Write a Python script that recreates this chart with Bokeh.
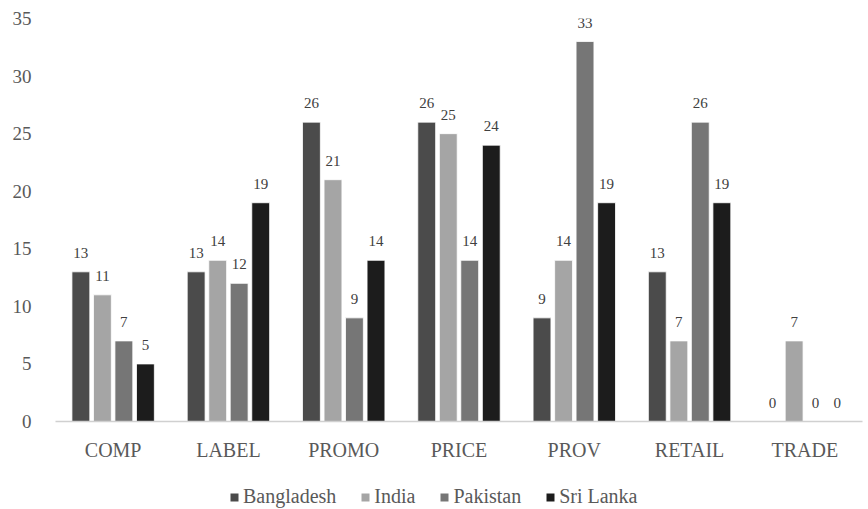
from bokeh.plotting import figure
from bokeh.models import ColumnDataSource, Legend, LegendItem, LabelSet, Range1d, FactorRange
from bokeh.layouts import column
from bokeh.transform import dodge
from bokeh.embed import file_html
from bokeh.resources import INLINE

categories = ["COMP", "LABEL", "PROMO", "PRICE", "PROV", "RETAIL", "TRADE"]
series_names = ["Bangladesh", "India", "Pakistan", "Sri Lanka"]
bangladesh = [13, 13, 26, 26, 9, 13, 0]
india = [11, 14, 21, 25, 14, 7, 7]
pakistan = [7, 12, 9, 14, 33, 26, 0]
sri_lanka = [5, 19, 14, 24, 19, 19, 0]
y_ticks = [0, 5, 10, 15, 20, 25, 30, 35]

colors = ["#4b4b4b", "#a5a5a5", "#767676", "#1c1c1c"]
series_values = [bangladesh, india, pakistan, sri_lanka]
keys = ["bd", "in", "pk", "sl"]

data = {"cat": categories}
for k, vals in zip(keys, series_values):
    data[k] = vals
    data[k + "_lbl"] = [str(v) for v in vals]
source = ColumnDataSource(data)

p = figure(x_range=FactorRange(*categories), y_range=Range1d(0, 35),
           width=866, height=478, output_backend="svg", toolbar_location=None,
           min_border_left=55, min_border_right=4, min_border_top=18, min_border_bottom=57)
p.outline_line_color = None
p.background_fill_color = "white"
p.border_fill_color = "white"

offsets = [-0.28, -0.093, 0.093, 0.28]
bar_w = 0.155
for k, off, c in zip(keys, offsets, colors):
    p.vbar(x=dodge("cat", off, range=p.x_range), top=k, width=bar_w, source=source,
           fill_color=c, line_color="white", line_width=0.8)
    labels = LabelSet(x=dodge("cat", off, range=p.x_range), y=k, text=k + "_lbl", source=source,
                      text_align="center", text_baseline="bottom", y_offset=14,
                      text_font="Liberation Serif", text_font_size="15px", text_color="#404040")
    p.add_layout(labels)

p.xgrid.grid_line_color = None
p.ygrid.grid_line_color = None

p.yaxis.ticker = y_ticks
p.yaxis.axis_line_color = None
p.yaxis.major_tick_line_color = None
p.yaxis.minor_tick_line_color = None
p.yaxis.major_label_text_font = "Liberation Serif"
p.yaxis.major_label_text_font_size = "19px"
p.yaxis.major_label_text_color = "#595959"
p.yaxis.major_label_standoff = 18

p.xaxis.axis_line_color = "#d0d0d0"
p.xaxis.axis_line_width = 1.5
p.xaxis.major_tick_line_color = None
p.xaxis.minor_tick_line_color = None
p.xaxis.major_label_text_font = "Liberation Serif"
p.xaxis.major_label_text_font_size = "20px"
p.xaxis.major_label_text_color = "#595959"
p.xaxis.major_label_standoff = 11

# legend in its own strip below the chart
lf = figure(width=866, height=30, output_backend="svg", toolbar_location=None,
            x_range=Range1d(0, 1), y_range=Range1d(0, 1),
            x_axis_type=None, y_axis_type=None,
            min_border_left=0, min_border_right=0, min_border_top=0, min_border_bottom=0)
lf.outline_line_color = None
lf.xgrid.grid_line_color = None
lf.ygrid.grid_line_color = None
dummies = [lf.vbar(x=[-5], top=[0], width=0.1, fill_color=c, line_color=None) for c in colors]

legend = Legend(items=[LegendItem(label=n, renderers=[r]) for n, r in zip(series_names, dummies)],
                orientation="horizontal", location=(174, 0),
                label_text_font="Liberation Serif", label_text_font_size="20px",
                label_text_color="#595959", glyph_width=10, glyph_height=10,
                label_standoff=4, spacing=24, border_line_color=None,
                background_fill_alpha=0, margin=0, padding=0)
lf.add_layout(legend, "center")

layout = column(p, lf, spacing=0)
open("out.html", "w").write(file_html(layout, INLINE))
